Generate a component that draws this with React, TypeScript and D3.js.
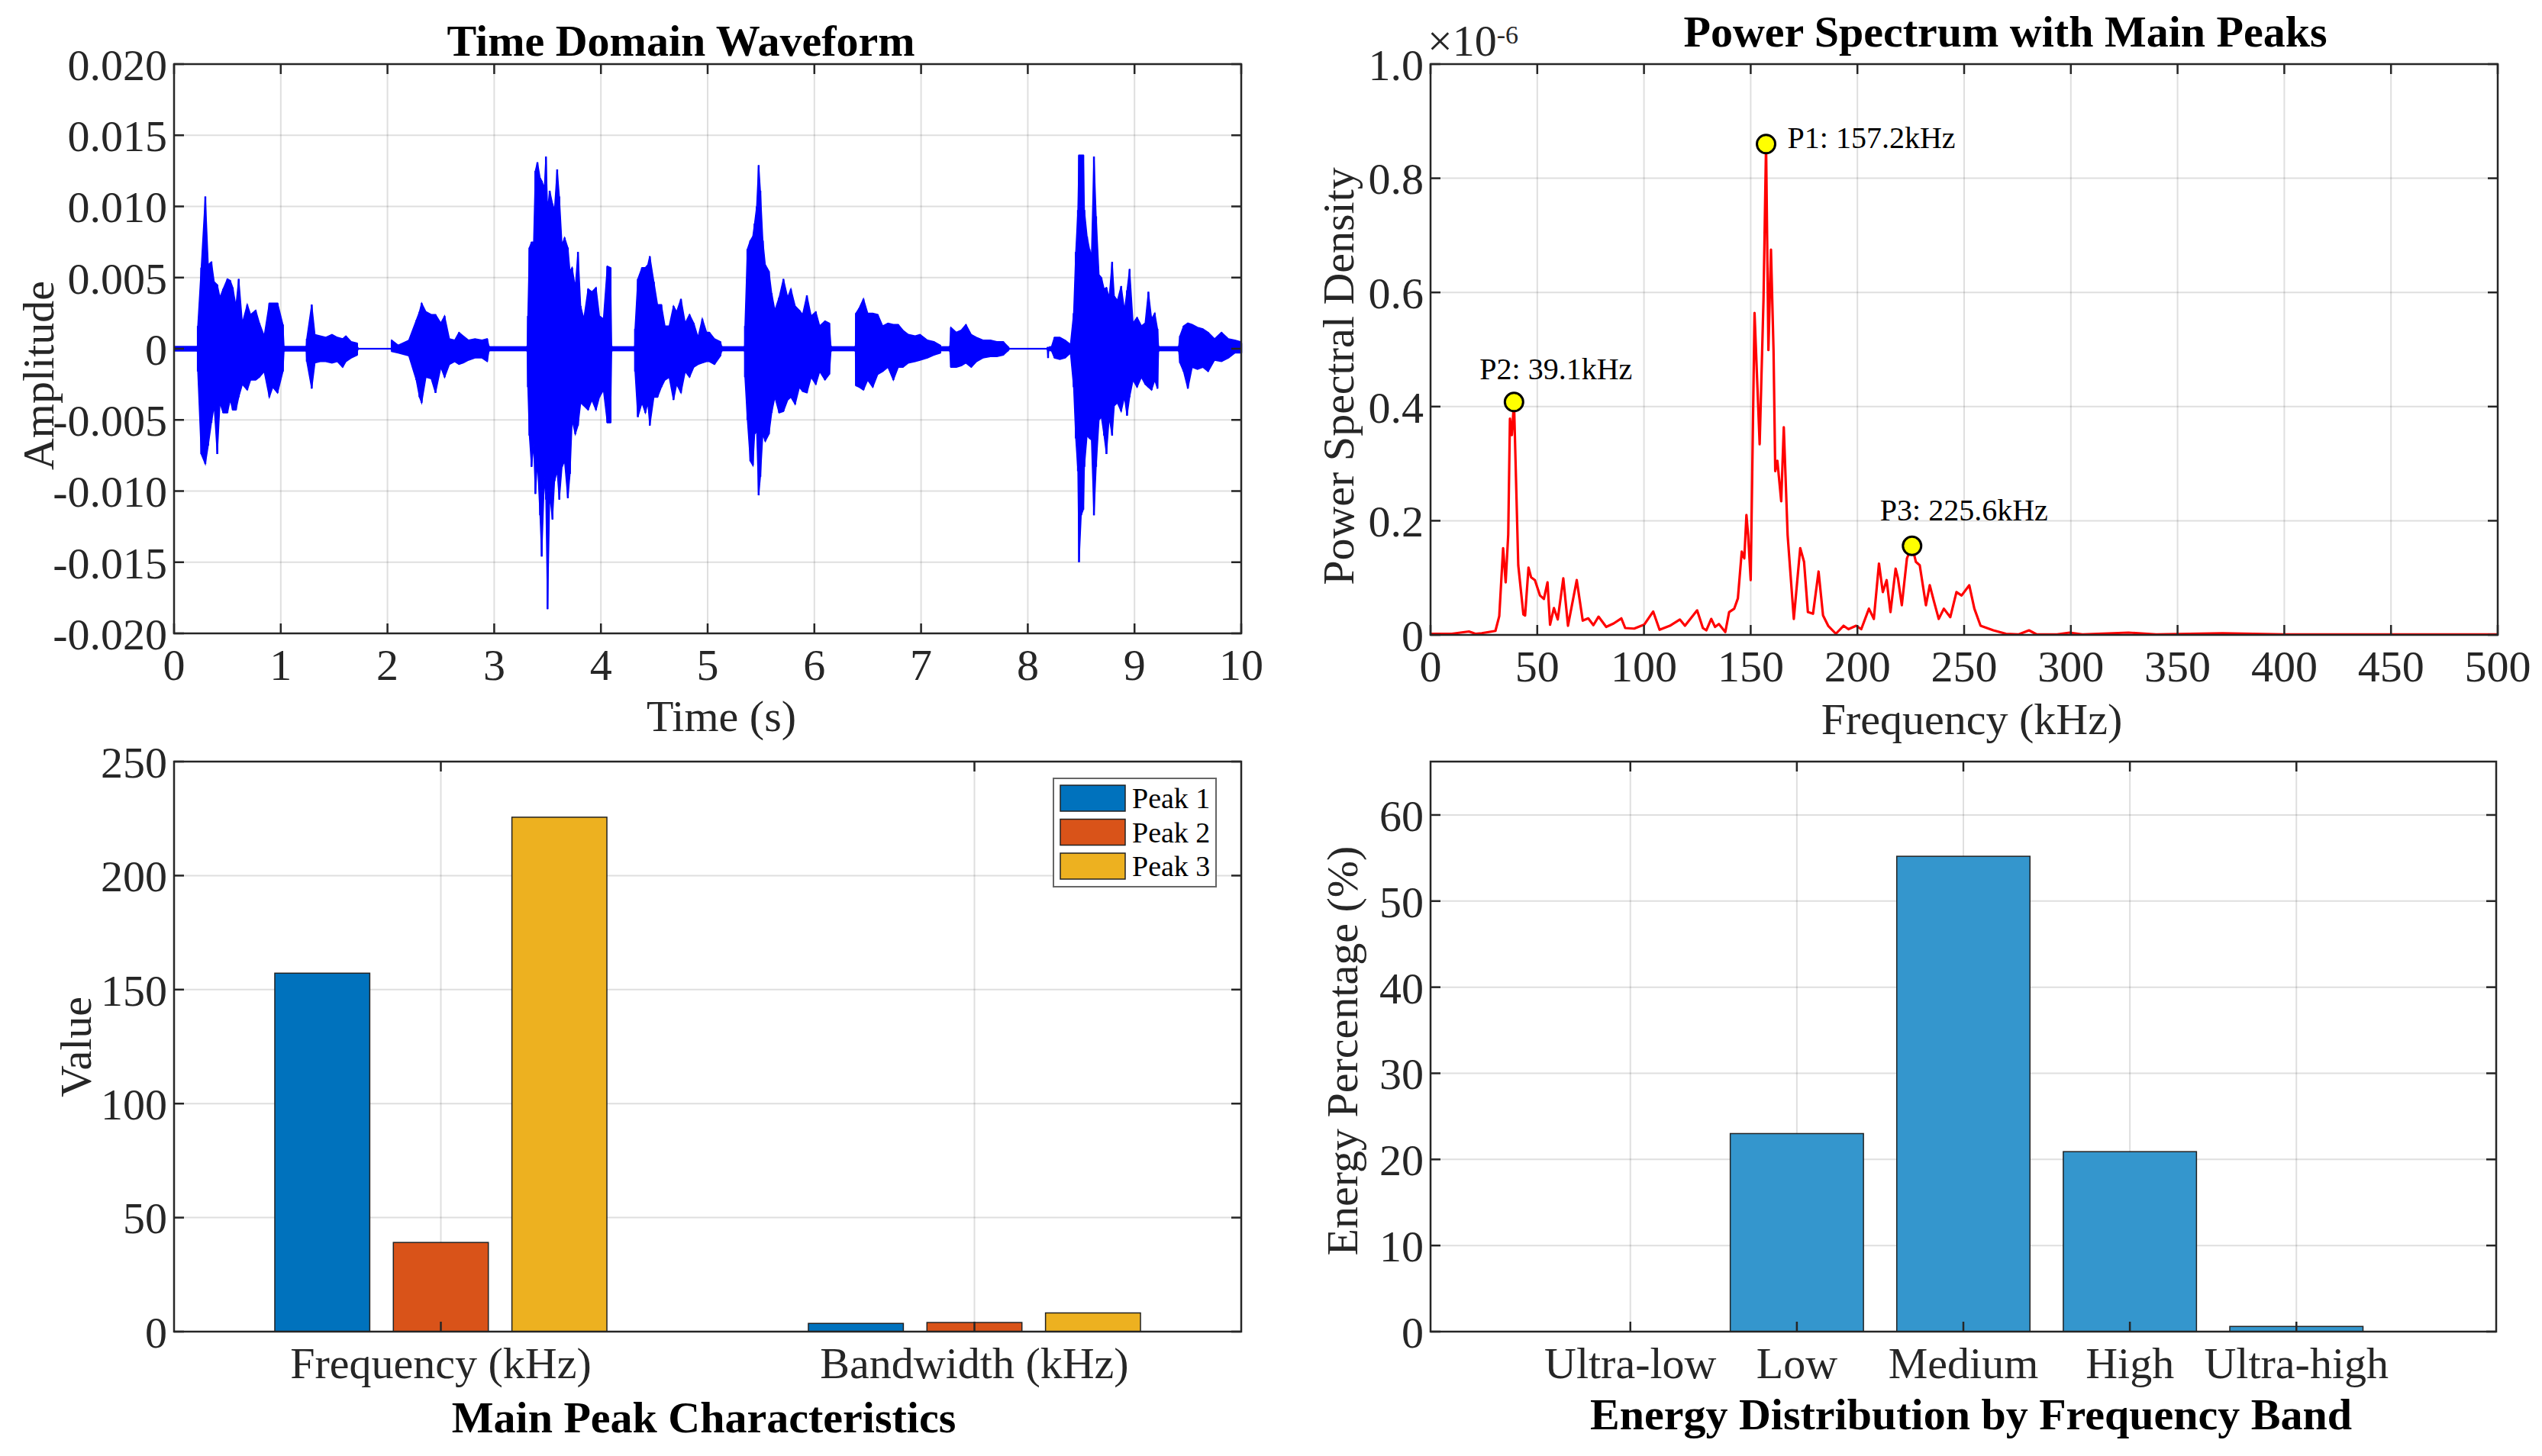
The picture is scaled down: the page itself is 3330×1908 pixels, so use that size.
import React from "react";
import * as d3 from "d3";

type Sample = [number, number, number]; // time (s), upper, lower (x1e-3)

const FONT = "'Liberation Serif', 'Times New Roman', Times, serif";
const AX = "#262626";

// ---------- Time domain waveform (amplitude in units of 1e-3) ----------
const burstA: Sample[] = [
  [0.22, 0.2, -0.2], [0.223, 1.6, -1.6], [0.255, 5.7, -7.4], [0.293, 10.7, -8.1],
  [0.32, 5.9, -6.8], [0.35, 6.1, -5.2], [0.376, 4.7, -4.0], [0.405, 4.5, -7.4],
  [0.43, 3.6, -3.8], [0.46, 4.2, -4.5], [0.5, 4.9, -4.5], [0.526, 4.8, -3.6],
  [0.55, 4.3, -4.3], [0.58, 3.0, -4.3], [0.606, 4.9, -3.4], [0.64, 1.8, -2.5],
  [0.686, 3.1, -2.9], [0.717, 2.4, -2.2], [0.765, 2.7, -2.2], [0.8, 1.8, -2.0],
  [0.845, 0.9, -1.6], [0.893, 3.2, -3.4], [0.925, 3.2, -2.7], [0.97, 3.2, -3.1],
  [1.02, 1.7, -1.6], [1.03, 0.2, -0.2],
];
const burstB: Sample[] = [
  [1.24, 0.2, -0.2], [1.244, 0.7, -0.9], [1.29, 3.1, -2.8], [1.32, 1.0, -1.0],
  [1.37, 0.9, -0.9], [1.42, 0.8, -0.9], [1.48, 1.0, -1.0], [1.53, 0.8, -0.9],
  [1.58, 0.7, -1.3], [1.61, 0.9, -0.9], [1.66, 0.5, -0.65], [1.715, 0.4, -0.45],
  [1.72, 0.1, -0.1],
];
const burstC: Sample[] = [
  [2.04, 0.6, -0.2], [2.1, 0.25, -0.3], [2.2, 0.6, -0.5], [2.27, 2.0, -2.2],
  [2.3, 2.6, -3.4], [2.32, 3.2, -3.8], [2.36, 2.6, -2.0], [2.41, 2.4, -2.1],
  [2.45, 2.4, -3.1], [2.5, 1.8, -1.3], [2.535, 2.3, -2.0], [2.58, 0.7, -1.1],
  [2.63, 0.6, -0.9], [2.67, 1.15, -1.1], [2.71, 0.9, -1.0], [2.76, 0.6, -0.8],
  [2.82, 0.7, -0.65], [2.886, 0.6, -0.65], [2.934, 0.7, -0.9], [2.95, 0.2, -0.2],
];
const burstD: Sample[] = [
  [3.31, 0.2, -0.2], [3.316, 2.3, -2.7], [3.33, 7.1, -6.1], [3.35, 7.5, -8.3],
  [3.37, 7.5, -6.7], [3.386, 12.5, -10.2], [3.405, 13.1, -7.9], [3.43, 12.0, -11.7],
  [3.445, 11.8, -14.6], [3.47, 11.3, -9.0], [3.485, 13.5, -10.6], [3.5, 9.75, -18.3],
  [3.52, 11.1, -10.2], [3.546, 10.2, -12.0], [3.565, 9.75, -9.3], [3.59, 12.6, -8.6],
  [3.61, 10.7, -10.6], [3.635, 7.3, -8.3], [3.66, 7.8, -7.9], [3.69, 7.1, -10.5],
  [3.71, 5.45, -8.8], [3.73, 5.7, -5.0], [3.76, 4.3, -6.0], [3.785, 6.8, -5.4],
  [3.81, 3.0, -3.8], [3.84, 2.1, -4.0], [3.88, 4.2, -4.3], [3.915, 4.0, -3.6],
  [3.954, 4.3, -4.3], [3.986, 2.3, -3.4], [4.024, 2.1, -2.9], [4.06, 5.8, -5.2],
  [4.09, 5.7, -5.2], [4.1, 0.2, -0.2],
];
const burstE: Sample[] = [
  [4.318, 0.2, -0.2], [4.32, 1.4, -1.6], [4.346, 4.9, -4.8], [4.385, 5.7, -3.8],
  [4.416, 5.7, -4.5], [4.44, 5.9, -3.8], [4.458, 6.5, -5.4], [4.496, 4.7, -3.4],
  [4.53, 3.1, -3.4], [4.566, 3.1, -2.7], [4.6, 1.6, -2.2], [4.64, 1.6, -2.0],
  [4.68, 3.0, -3.6], [4.71, 2.6, -2.5], [4.75, 3.5, -3.1], [4.79, 1.8, -1.6],
  [4.83, 2.4, -2.0], [4.87, 1.8, -1.3], [4.91, 0.8, -1.1], [4.95, 2.1, -1.0],
  [4.99, 1.15, -0.9], [5.016, 1.15, -0.9], [5.064, 0.7, -1.1], [5.12, 0.5, -0.5],
  [5.13, 0.2, -0.2],
];
const burstF: Sample[] = [
  [5.348, 0.2, -0.2], [5.35, 1.6, -2.0], [5.373, 7.0, -5.0], [5.4, 7.6, -7.9],
  [5.424, 7.9, -8.2], [5.44, 8.8, -6.0], [5.46, 10.0, -5.8], [5.478, 12.9, -10.3],
  [5.494, 11.1, -9.0], [5.517, 7.6, -6.0], [5.54, 5.9, -6.5], [5.574, 5.45, -6.0],
  [5.6, 3.9, -4.5], [5.63, 2.7, -3.4], [5.67, 3.6, -4.5], [5.71, 4.9, -4.4],
  [5.75, 3.6, -3.6], [5.78, 4.2, -3.4], [5.82, 3.0, -3.9], [5.86, 2.7, -2.7],
  [5.89, 2.4, -3.0], [5.93, 3.75, -3.1], [5.97, 2.3, -2.0], [6.014, 2.6, -2.5],
  [6.05, 1.6, -1.6], [6.1, 1.95, -2.2], [6.14, 1.8, -1.8], [6.155, 0.2, -0.2],
];
const burstG: Sample[] = [
  [6.385, 0.2, -0.2], [6.39, 2.5, -2.6], [6.42, 2.85, -2.7], [6.46, 3.5, -2.9],
  [6.5, 2.5, -2.2], [6.547, 2.5, -2.7], [6.594, 2.4, -1.8], [6.64, 1.6, -1.6],
  [6.69, 1.8, -1.3], [6.74, 1.7, -2.2], [6.786, 1.7, -1.3], [6.83, 1.3, -1.3],
  [6.88, 1.0, -1.0], [6.945, 0.9, -0.9], [6.99, 1.0, -0.8], [7.06, 0.6, -0.65],
  [7.12, 0.5, -0.45], [7.18, 0.25, -0.3],
];
const burstH: Sample[] = [
  [7.27, 0.2, -0.2], [7.28, 1.5, -1.3], [7.33, 1.15, -1.3], [7.376, 1.3, -1.2],
  [7.42, 1.7, -1.0], [7.47, 1.0, -1.3], [7.52, 0.8, -0.9], [7.58, 0.6, -0.65],
  [7.65, 0.6, -0.55], [7.71, 0.5, -0.55], [7.77, 0.5, -0.45], [7.82, 0.1, -0.1],
];
const burstI: Sample[] = [
  [8.185, 0.1, -0.1], [8.19, 0.1, -0.65], [8.195, 0.1, -0.1], [8.22, 0.1, -0.1],
  [8.25, 0.8, -0.65], [8.3, 0.8, -0.75], [8.35, 0.6, -0.65], [8.4, 0.3, -0.3],
  [8.43, 2.5, -2.7], [8.45, 6.8, -6.3], [8.47, 9.75, -8.6], [8.48, 13.6, -15.0],
  [8.5, 13.6, -11.7], [8.52, 13.6, -11.3], [8.53, 9.75, -8.3], [8.555, 7.9, -6.1],
  [8.578, 7.0, -6.3], [8.597, 6.5, -6.4], [8.62, 13.5, -11.7], [8.64, 9.3, -8.3],
  [8.667, 5.2, -5.0], [8.69, 5.0, -4.8], [8.715, 4.2, -6.1], [8.737, 4.3, -7.4],
  [8.763, 3.6, -4.8], [8.79, 6.1, -6.1], [8.81, 3.7, -4.0], [8.84, 3.4, -3.8],
  [8.875, 4.4, -4.4], [8.906, 2.7, -3.4], [8.93, 4.1, -4.7], [8.954, 5.6, -3.4],
  [8.986, 1.8, -2.2], [9.024, 2.2, -2.7], [9.065, 1.6, -2.0], [9.1, 1.8, -2.5],
  [9.13, 4.0, -2.7], [9.16, 2.1, -2.9], [9.19, 2.5, -2.2], [9.215, 1.4, -2.8],
  [9.225, 0.2, -0.2],
];
const burstJ: Sample[] = [
  [9.415, 0.2, -0.2], [9.426, 0.9, -1.0], [9.46, 1.6, -1.6], [9.5, 1.8, -2.8],
  [9.54, 1.7, -1.3], [9.59, 1.5, -1.45], [9.64, 1.4, -1.3], [9.69, 1.15, -1.6],
  [9.75, 0.7, -0.8], [9.815, 1.15, -0.9], [9.88, 0.7, -0.65], [9.94, 0.6, -0.3],
  [9.99, 0.5, -0.3], [10, 0.4, -0.3],
];
const waveBursts = [burstA, burstB, burstC, burstD, burstE, burstF, burstG, burstH, burstI, burstJ];
// noise floor between bursts: [start, end, half-amplitude]
const quietFloor: [number, number, number][] = [
  [0, 1.72, 0.2], [1.72, 2.04, 0.06], [2.04, 7.82, 0.18], [7.82, 8.2, 0.06], [8.2, 10, 0.18],
];
const timeTicks = [0, 1, 2, 3, 4, 5, 6, 7, 8, 9, 10];
const ampTicks = [-20, -15, -10, -5, 0, 5, 10, 15, 20];

// ---------- Power spectrum (kHz, x1e-6) ----------
const spectrum: [number, number][] = [
  [0, 0.002], [10, 0.002], [18, 0.006], [21, 0.002], [24, 0.003], [30.4, 0.007],
  [32.2, 0.033], [34.0, 0.152], [35.2, 0.092], [36.4, 0.176], [37.2, 0.379], [38.1, 0.35],
  [39.1, 0.408], [41.1, 0.122], [43.5, 0.036], [44.3, 0.034], [45.9, 0.118], [47.1, 0.101],
  [48.9, 0.096], [51.3, 0.069], [53.1, 0.063], [54.8, 0.092], [56.0, 0.018], [57.8, 0.047],
  [59.6, 0.027], [62.2, 0.099], [64.4, 0.016], [68.5, 0.096], [71.3, 0.025], [73.9, 0.029],
  [76.3, 0.017], [78.7, 0.032], [82.3, 0.014], [85.8, 0.02], [89.4, 0.029], [91.2, 0.012],
  [95.4, 0.011], [100.1, 0.018], [104.3, 0.041], [107.3, 0.009], [112.1, 0.016], [116.8, 0.027],
  [119.2, 0.016], [124.9, 0.043], [127.6, 0.012], [129.2, 0.008], [131.5, 0.028], [133.3, 0.014],
  [135.1, 0.019], [138.1, 0.005], [139.9, 0.04], [142.3, 0.046], [144.0, 0.064], [145.8, 0.146],
  [147.0, 0.134], [148.0, 0.21], [148.8, 0.175], [150.0, 0.096], [151.8, 0.564], [154.2, 0.334],
  [156.0, 0.587], [157.2, 0.86], [158.3, 0.499], [159.5, 0.675], [160.7, 0.499], [161.5, 0.287],
  [162.5, 0.305], [164.3, 0.234], [165.5, 0.364], [167.3, 0.175], [170.2, 0.028], [173.2, 0.152],
  [175.0, 0.128], [176.8, 0.04], [179.2, 0.037], [181.8, 0.111], [183.9, 0.034], [186.3, 0.016],
  [189.9, 0.002], [193.5, 0.016], [195.8, 0.01], [199.4, 0.016], [201.8, 0.01], [205.4, 0.046],
  [207.7, 0.028], [210.1, 0.125], [211.9, 0.075], [213.7, 0.096], [215.5, 0.04], [217.9, 0.116],
  [219.0, 0.099], [220.8, 0.052], [223.2, 0.134], [225.6, 0.156], [227.4, 0.128], [229.2, 0.122],
  [232.1, 0.052], [233.9, 0.087], [235.7, 0.061], [238.1, 0.028], [240.5, 0.046], [243.5, 0.031],
  [246.4, 0.075], [248.8, 0.069], [252.4, 0.087], [254.8, 0.046], [257.7, 0.016], [263.7, 0.008],
  [269.6, 0.002], [275.6, 0.001], [280.4, 0.008], [283.9, 0.001], [293.5, 0.001], [299.4, 0.004],
  [305.4, 0.001], [327, 0.004], [340, 0.001], [371, 0.003], [400, 0.001], [450, 0.001], [500, 0.001],
];
const peakNamesShort = ["P1", "P2", "P3"];
const peakFreqs = [157.2, 39.1, 225.6];
const peakPsd = [0.86, 0.408, 0.156];
const freqTicks = [0, 50, 100, 150, 200, 250, 300, 350, 400, 450, 500];
const psdTicks = [0, 0.2, 0.4, 0.6, 0.8, 1.0];

// ---------- Main peak characteristics ----------
const charGroups = ["Frequency (kHz)", "Bandwidth (kHz)"];
const peakLegend = ["Peak 1", "Peak 2", "Peak 3"];
const peakFrequencyVals = [157.2, 39.1, 225.6];
const peakBandwidthVals = [3.6, 4.0, 8.2];
const peakColors = ["#0072BD", "#D95319", "#EDB120"];
const valueTicks = [0, 50, 100, 150, 200, 250];

// ---------- Energy distribution ----------
const bands = ["Ultra-low", "Low", "Medium", "High", "Ultra-high"];
const energyPct = [0, 23.0, 55.2, 20.9, 0.6];
const energyTicks = [0, 10, 20, 30, 40, 50, 60];

type Box = { left: number; right: number; top: number; bottom: number };

const Axes: React.FC<{
  box: Box;
  x: (v: number) => number;
  y: (v: number) => number;
  xTicks: number[];
  yTicks: number[];
  xFmt: (v: number, i: number) => string;
  yFmt: (v: number, i: number) => string;
  children?: React.ReactNode;
}> = ({ box, x, y, xTicks, yTicks, xFmt, yFmt, children }) => {
  const tl = 13;
  return (
    <g>
      <g stroke={AX} strokeOpacity={0.15} strokeWidth={2}>
        {xTicks.map((v) => (
          <line key={"gx" + v} x1={x(v)} x2={x(v)} y1={box.top} y2={box.bottom} />
        ))}
        {yTicks.map((v) => (
          <line key={"gy" + v} x1={box.left} x2={box.right} y1={y(v)} y2={y(v)} />
        ))}
      </g>
      {children}
      <rect
        x={box.left}
        y={box.top}
        width={box.right - box.left}
        height={box.bottom - box.top}
        fill="none"
        stroke={AX}
        strokeWidth={2.5}
      />
      <g stroke={AX} strokeWidth={2.5}>
        {xTicks.map((v) => (
          <g key={"tx" + v}>
            <line x1={x(v)} x2={x(v)} y1={box.bottom} y2={box.bottom - tl} />
            <line x1={x(v)} x2={x(v)} y1={box.top} y2={box.top + tl} />
          </g>
        ))}
        {yTicks.map((v) => (
          <g key={"ty" + v}>
            <line x1={box.left} x2={box.left + tl} y1={y(v)} y2={y(v)} />
            <line x1={box.right} x2={box.right - tl} y1={y(v)} y2={y(v)} />
          </g>
        ))}
      </g>
      <g fontFamily={FONT} fontSize={58} fill={AX}>
        {xTicks.map((v, i) => (
          <text key={"lx" + v} x={x(v)} y={box.bottom + 61} textAnchor="middle">
            {xFmt(v, i)}
          </text>
        ))}
        {yTicks.map((v, i) => (
          <text key={"ly" + v} x={box.left - 9} y={y(v)} dy="0.36em" textAnchor="end">
            {yFmt(v, i)}
          </text>
        ))}
      </g>
    </g>
  );
};

const YLabel: React.FC<{ x: number; y: number; text: string; bold?: boolean }> = ({ x, y, text, bold }) => (
  <text
    transform={`translate(${x},${y}) rotate(-90)`}
    textAnchor="middle"
    fontFamily={FONT}
    fontSize={58}
    fontWeight={bold ? "bold" : "normal"}
    fill={AX}
  >
    {text}
  </text>
);

const Label: React.FC<{ x: number; y: number; text: string; bold?: boolean }> = ({ x, y, text, bold }) => (
  <text
    x={x}
    y={y}
    textAnchor="middle"
    fontFamily={FONT}
    fontSize={58}
    fontWeight={bold ? "bold" : "normal"}
    fill={bold ? "#000" : AX}
  >
    {text}
  </text>
);

const App: React.FC = () => {
  // ---- top left: waveform ----
  const tlBox: Box = { left: 228, right: 1626, top: 84, bottom: 830 };
  const xT = d3.scaleLinear().domain([0, 10]).range([tlBox.left, tlBox.right]);
  const yT = d3.scaleLinear().domain([-20, 20]).range([tlBox.bottom, tlBox.top]);
  const waveArea = d3
    .area<Sample>()
    .x((d) => xT(d[0]))
    .y0((d) => yT(d[2]))
    .y1((d) => yT(d[1]));

  // ---- top right: spectrum ----
  const trBox: Box = { left: 1874, right: 3272, top: 84, bottom: 832 };
  const xS = d3.scaleLinear().domain([0, 500]).range([trBox.left, trBox.right]);
  const yS = d3.scaleLinear().domain([0, 1]).range([trBox.bottom, trBox.top]);
  const specLine = d3
    .line<[number, number]>()
    .x((d) => xS(d[0]))
    .y((d) => yS(d[1]));
  // label offsets (px) relative to each peak marker
  const peakLabelOffset: [number, number][] = [
    [28, 5],
    [-45, -30],
    [-42, -33],
  ];

  // ---- bottom left: grouped bars ----
  const blBox: Box = { left: 228, right: 1626, top: 998, bottom: 1745 };
  const xB = d3.scaleLinear().domain([0.5, 2.5]).range([blBox.left, blBox.right]);
  const yB = d3.scaleLinear().domain([0, 250]).range([blBox.bottom, blBox.top]);
  const groupVals = [peakFrequencyVals, peakBandwidthVals];
  const barStep = 0.2222;
  const barW = 0.178;

  // ---- bottom right: energy bars ----
  const brBox: Box = { left: 1874, right: 3270, top: 998, bottom: 1745 };
  const xE = d3.scaleLinear().domain([-0.2, 6.2]).range([brBox.left, brBox.right]);
  const yE = d3.scaleLinear().domain([0, 66.2]).range([brBox.bottom, brBox.top]);
  const bandPos = bands.map((_, i) => i + 1);

  const ampFmt = (v: number) => (v === 0 ? "0" : (v / 1000).toFixed(3));

  return (
    <svg
      width={3330}
      height={1908}
      style={{ position: "absolute", left: 0, top: 0, background: "#fff" }}
    >
      <rect x={0} y={0} width={3330} height={1908} fill="#fff" />

      {/* Time Domain Waveform */}
      <Axes
        box={tlBox}
        x={xT}
        y={yT}
        xTicks={timeTicks}
        yTicks={ampTicks}
        xFmt={(v) => String(v)}
        yFmt={ampFmt}
      >
        <g fill="#0000FF">
          {quietFloor.map(([t0, t1, a], i) => (
            <rect key={"q" + i} x={xT(t0)} y={yT(a)} width={xT(t1) - xT(t0)} height={yT(-a) - yT(a)} />
          ))}
          {waveBursts.map((b, i) => (
            <path key={"b" + i} d={waveArea(b) || ""} stroke="#0000FF" strokeWidth={1.5} strokeLinejoin="miter" />
          ))}
        </g>
        <g stroke="#0000FF" strokeWidth={2.5}>
          {waveBursts.map((b, i) =>
            b.map((d, j) => (
              <line key={"s" + i + "-" + j} x1={xT(d[0])} x2={xT(d[0])} y1={yT(d[1])} y2={yT(d[2])} />
            ))
          )}
        </g>
      </Axes>
      <Label x={892} y={73} text="Time Domain Waveform" bold />
      <Label x={945} y={958} text="Time (s)" />
      <YLabel x={70} y={492} text="Amplitude" />

      {/* Power Spectrum */}
      <Axes
        box={trBox}
        x={xS}
        y={yS}
        xTicks={freqTicks}
        yTicks={psdTicks}
        xFmt={(v) => String(v)}
        yFmt={(v) => (v === 0 ? "0" : v.toFixed(1))}
      >
        <path
          d={specLine(spectrum) || ""}
          fill="none"
          stroke="#FF0000"
          strokeWidth={3.2}
          strokeLinejoin="round"
        />
        {peakFreqs.map((f, i) => (
          <g key={"pk" + i}>
            <circle cx={xS(f)} cy={yS(peakPsd[i])} r={12} fill="#FFFF00" stroke="#000" strokeWidth={3} />
            <text
              x={xS(f) + peakLabelOffset[i][0]}
              y={yS(peakPsd[i]) + peakLabelOffset[i][1]}
              fontFamily={FONT}
              fontSize={40}
              fill="#000"
            >
              {`${peakNamesShort[i]}: ${f.toFixed(1)}kHz`}
            </text>
          </g>
        ))}
      </Axes>
      <text x={1870} y={73} fontFamily={FONT} fontSize={58} fill={AX}>
        ×10
        <tspan fontSize={34} dy={-16}>
          -6
        </tspan>
      </text>
      <Label x={2627} y={61} text="Power Spectrum with Main Peaks" bold />
      <Label x={2583} y={962} text="Frequency (kHz)" />
      <YLabel x={1773} y={493} text="Power Spectral Density" />

      {/* Main Peak Characteristics */}
      <Axes
        box={blBox}
        x={xB}
        y={yB}
        xTicks={[1, 2]}
        yTicks={valueTicks}
        xFmt={(_, i) => charGroups[i]}
        yFmt={(v) => String(v)}
      >
        {groupVals.map((vals, g) =>
          vals.map((v, k) => {
            const cx = g + 1 + (k - 1) * barStep;
            return (
              <rect
                key={"gb" + g + k}
                x={xB(cx - barW / 2)}
                y={yB(v)}
                width={xB(cx + barW / 2) - xB(cx - barW / 2)}
                height={yB(0) - yB(v)}
                fill={peakColors[k]}
                stroke="#222"
                strokeWidth={1.5}
              />
            );
          })
        )}
      </Axes>
      <g>
        <rect x={1380} y={1020} width={213} height={142} fill="#fff" stroke="#666" strokeWidth={2} />
        {peakLegend.map((name, k) => (
          <g key={"lg" + k}>
            <rect x={1389} y={1029 + k * 44.5} width={85} height={34} fill={peakColors[k]} stroke="#222" strokeWidth={1.5} />
            <text x={1483} y={1046 + k * 44.5} dy="0.35em" fontFamily={FONT} fontSize={38} fill="#000">
              {name}
            </text>
          </g>
        ))}
      </g>
      <Label x={922} y={1877} text="Main Peak Characteristics" bold />
      <YLabel x={119} y={1372} text="Value" />

      {/* Energy Distribution */}
      <Axes
        box={brBox}
        x={xE}
        y={yE}
        xTicks={bandPos}
        yTicks={energyTicks}
        xFmt={(_, i) => bands[i]}
        yFmt={(v) => String(v)}
      >
        {energyPct.map((v, i) => (
          <rect
            key={"eb" + i}
            x={xE(bandPos[i] - 0.4)}
            y={yE(v)}
            width={xE(bandPos[i] + 0.4) - xE(bandPos[i] - 0.4)}
            height={yE(0) - yE(v)}
            fill="#3496CD"
            stroke="#222"
            strokeWidth={1.5}
            strokeOpacity={v > 0 ? 1 : 0}
          />
        ))}
      </Axes>
      <Label x={2582} y={1873} text="Energy Distribution by Frequency Band" bold />
      <YLabel x={1778} y={1377} text="Energy Percentage (%)" />
    </svg>
  );
};

export default App;
